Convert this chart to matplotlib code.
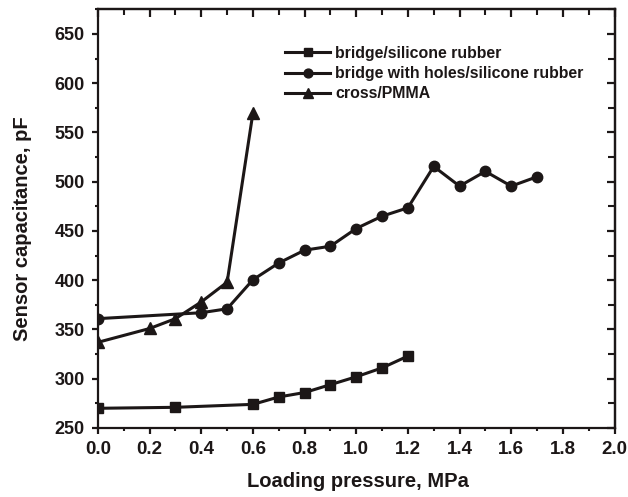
import matplotlib
matplotlib.use("Agg")
import matplotlib.pyplot as plt
from matplotlib.ticker import MultipleLocator

plt.rcParams['font.family'] = ['Liberation Sans', 'DejaVu Sans']
plt.rcParams['font.weight'] = 'bold'

# Data
x_bridge = [0.0, 0.3, 0.6, 0.7, 0.8, 0.9, 1.0, 1.1, 1.2]
y_bridge = [270, 271, 274, 281.5, 286, 294, 302, 311, 323]

x_holes = [0.0, 0.4, 0.5, 0.6, 0.7, 0.8, 0.9, 1.0, 1.1, 1.2, 1.3, 1.4, 1.5, 1.6, 1.7]
y_holes = [361, 367, 371, 400.5, 417.5, 430.5, 434.5, 452.5, 465, 473.5, 515.5, 495.5, 510.5, 495.5, 505]

x_cross = [0.0, 0.2, 0.3, 0.4, 0.5, 0.6]
y_cross = [337, 351, 361, 378, 398, 570]

labels = ["bridge/silicone rubber", "bridge with holes/silicone rubber", "cross/PMMA"]
xticks = [0.0, 0.2, 0.4, 0.6, 0.8, 1.0, 1.2, 1.4, 1.6, 1.8, 2.0]
yticks = [250, 300, 350, 400, 450, 500, 550, 600, 650]

col = '#1c1717'
W, H = 628, 497

fig = plt.figure(figsize=(W/100, H/100), dpi=100)
L, R, B, T = 98, 614.5, 428, 9.3
ax = fig.add_axes([L/W, 1-B/H, (R-L)/W, (B-T)/H])

ax.plot(x_bridge, y_bridge, '-s', color=col, lw=2.2, ms=7, label=labels[0])
ax.plot(x_holes, y_holes, '-o', color=col, lw=2.2, ms=7.5, label=labels[1])
ax.plot(x_cross, y_cross, '-^', color=col, lw=2.2, ms=8.5, label=labels[2])

ax.set_xlim(0, 2.0)
ax.set_ylim(250, 675)
ax.set_xticks(xticks)
ax.set_xticklabels([f"{t:.1f}" for t in xticks])
ax.set_yticks(yticks)
ax.xaxis.set_minor_locator(MultipleLocator(0.1))
ax.yaxis.set_minor_locator(MultipleLocator(25))

for s in ax.spines.values():
    s.set_linewidth(1.6)
    s.set_color(col)

ax.tick_params(axis='both', which='major', width=1.6, length=4.5,
               color=col, labelcolor=col, direction='out')
ax.tick_params(axis='both', which='minor', width=1.5, length=2.5, color=col, direction='out')
ax.tick_params(axis='x', which='major', labelsize=13.5, pad=5)
ax.tick_params(axis='y', which='major', labelsize=13, pad=5)

# top and right inward ticks
axt = ax.secondary_xaxis('top')
axt.set_xticks(xticks)
axt.xaxis.set_minor_locator(MultipleLocator(0.1))
axt.tick_params(axis='x', which='major', direction='in', length=6, width=1.6, color=col, labeltop=False)
axt.tick_params(axis='x', which='minor', direction='in', length=4, width=1.5, color=col)
axt.spines['top'].set_linewidth(1.6)
axt.spines['top'].set_color(col)

axr = ax.secondary_yaxis('right')
axr.set_yticks(yticks)
axr.yaxis.set_minor_locator(MultipleLocator(25))
axr.tick_params(axis='y', which='major', direction='in', length=6, width=1.6, color=col, labelright=False)
axr.tick_params(axis='y', which='minor', direction='in', length=5, width=1.5, color=col)
axr.spines['right'].set_linewidth(1.6)
axr.spines['right'].set_color(col)

ax.set_xlabel("Loading pressure, MPa", fontsize=14.5, fontweight='bold', color=col)
ax.set_ylabel("Sensor capacitance, pF", fontsize=14.5, fontweight='bold', color=col)
ax.xaxis.set_label_coords((358 - L)/(R - L), (B - 472)/(B - T))
ax.yaxis.set_label_coords((32 - L)/(R - L), (B - 229)/(B - T))

leg = ax.legend(loc='upper left', bbox_to_anchor=((285 - L)/(R - L), (B - 46)/(B - T)),
                frameon=False, fontsize=11.4, handlelength=2.85, handletextpad=0.3,
                labelspacing=0.32, borderpad=0, borderaxespad=0, markerscale=0.85)
for t in leg.get_texts():
    t.set_color(col)
    t.set_fontweight('bold')

fig.savefig("out.png", dpi=100, facecolor='white')
